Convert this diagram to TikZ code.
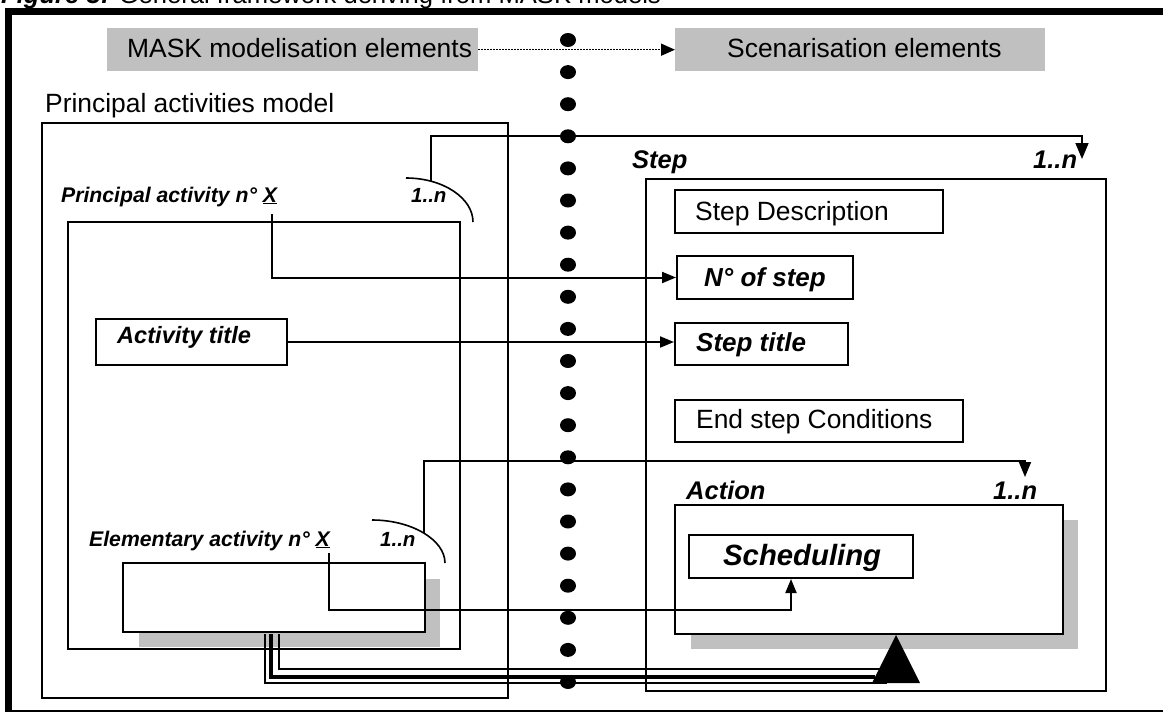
\documentclass[tikz,border=0pt]{standalone}
\usepackage{fontspec}
\setmainfont{Liberation Sans}
\usetikzlibrary{arrows.meta}
\definecolor{shadowgray}{RGB}{192,192,192}
\tikzset{
  box/.style={draw=black, line width=2pt, fill=white, inner sep=0pt, anchor=north west},
  bigbox/.style={draw=black, line width=1.6pt, inner sep=0pt, anchor=north west},
  graybox/.style={fill=shadowgray, draw=none, inner sep=0pt, anchor=north west},
  txt/.style={inner sep=0pt, anchor=base west, font=\fontsize{26.4}{30}\selectfont},
  bi/.style={inner sep=0pt, anchor=base west, font=\fontsize{#1}{#1}\selectfont\bfseries\itshape},
  conn/.style={line width=2pt, -{Triangle[length=14pt,width=11pt]}},
  thinline/.style={line width=1.6pt},
}
\begin{document}
\begin{tikzpicture}[x=1pt, y=-1pt]
\useasboundingbox (0,0) rectangle (1163,713);
\clip (0,0) rectangle (1163,713);
% caption (cut off at top)
\node[inner sep=0pt, anchor=base west, font=\fontsize{25.6}{26}\selectfont] (cap) at (1,3)
  {\textbf{\textit{Figure 3:}} General framework deriving from MASK models};
% frame
\draw[line width=7pt] (8.5,711) -- (8.5,11) -- (1170,11);
\draw[line width=1.5pt] (5,711) -- (1170,711);
% header boxes
\node[graybox, minimum width=371pt, minimum height=43pt] (mask) at (107,28) {};
\node[graybox, minimum width=370pt, minimum height=43pt] (scen) at (675,28) {};
\node[txt] (masktxt) at (127,57) {MASK modelisation elements};
\node[txt] (scentxt) at (727,57) {Scenarisation elements};
\draw[line width=1.5pt, dash pattern=on 1.5pt off 1.5pt, -{Triangle[length=14pt,width=12pt]}] (mask.east) -- (scen.west);
% left model
\node[txt] (pamtxt) at (45,112) {Principal activities model};
\node[bigbox, minimum width=466pt, minimum height=575pt] (pam) at (41,122) {};
\node[box, minimum width=392pt, minimum height=427pt] (pact) at (67,221) {};
\node[bi=21.2] (pactxt) at (61,202) {Principal activity n° \underline{X}};
\node[bi=20.5] (pmult) at (411,202) {1..n};
\node[box, minimum width=191pt, minimum height=46pt] (acttitle) at (95,318) {};
\node[bi=23.6] (acttxt) at (117,343) {Activity title};
\node[graybox, minimum width=301pt, minimum height=68pt] (eshadow) at (139,579) {};
\node[box, minimum width=302pt, minimum height=69pt] (elem) at (122,562) {};
\node[bi=21.2] (elemtxt) at (89,546) {Elementary activity n° \underline{X}};
\node[bi=20.5] (emult) at (380,546) {1..n};
% right scenario
\node[bi=25.5] (steplbl) at (632,168) {Step};
\node[bi=25.5] (smult) at (1033,168) {1..n};
\node[bigbox, minimum width=460pt, minimum height=512pt] (step) at (645,178) {};
\node[box, minimum width=268pt, minimum height=43pt] (stepdesc) at (674,189) {};
\node[txt] (stepdesctxt) at (695,220) {Step Description};
\node[box, minimum width=176pt, minimum height=43pt] (nstep) at (676,255) {};
\node[bi=26] (nsteptxt) at (704,286) {N° of step};
\node[box, minimum width=173pt, minimum height=42pt] (steptitle) at (674,322) {};
\node[bi=26] (steptitletxt) at (696,351) {Step title};
\node[box, minimum width=288pt, minimum height=42pt] (endcond) at (674,399) {};
\node[txt] (endcondtxt) at (696,428) {End step Conditions};
\node[bi=25.5] (actlbl) at (686,499) {Action};
\node[bi=25.5] (amult) at (993,499) {1..n};
\node[graybox, minimum width=387pt, minimum height=129pt] (ashadow) at (691,520) {};
\node[box, minimum width=388pt, minimum height=129pt] (action) at (674,504) {};
\node[box, minimum width=224pt, minimum height=43pt] (sched) at (688,534) {};
\node[bi=29.3] (schedtxt) at (723,565) {Scheduling};
% multiplicity arcs
\draw[thinline] (406,178) .. controls (443,178) and (473,198) .. (473,222);
\draw[thinline] (372,520) .. controls (412,520) and (445,540) .. (445,563);
% connectors
\coordinate (pX) at (272,214);
\coordinate (eX) at (329,553);
\coordinate (parc) at (431,181);
\coordinate (earc) at (424,533);
\coordinate (stepin) at (1082,159);
\coordinate (actin) at (1025,477);
\draw[conn] (pX) |- (nstep.west);
\draw[conn] (acttitle.east) -- (acttitle.east -| steptitle.west);
\draw[thinline, -{Triangle[length=16pt,width=13pt]}] (parc) -- ++(0,-45) -| (stepin);
\draw[thinline, -{Triangle[length=15pt,width=12pt]}] (earc) -- ++(0,-72) -| (actin);
\draw[conn] (eX) -- ++(0,57) -| ([xshift=-10pt]sched.south);
% dotted separator
\foreach \i in {0,...,20} {
  \fill (568,40+32.1*\i) ellipse [x radius=8, y radius=7];
}
% triple line to the big triangle
\coordinate (tri) at (896,635);
\draw[line width=1.5pt] (279,634) |- (880,669);
\draw[line width=4pt] (271,634) |- (875,677);
\draw[line width=1.8pt] (265,634) |- (887,683);
\fill (tri) -- (920,683) -- (872,683) -- cycle;
\end{tikzpicture}
\end{document}
